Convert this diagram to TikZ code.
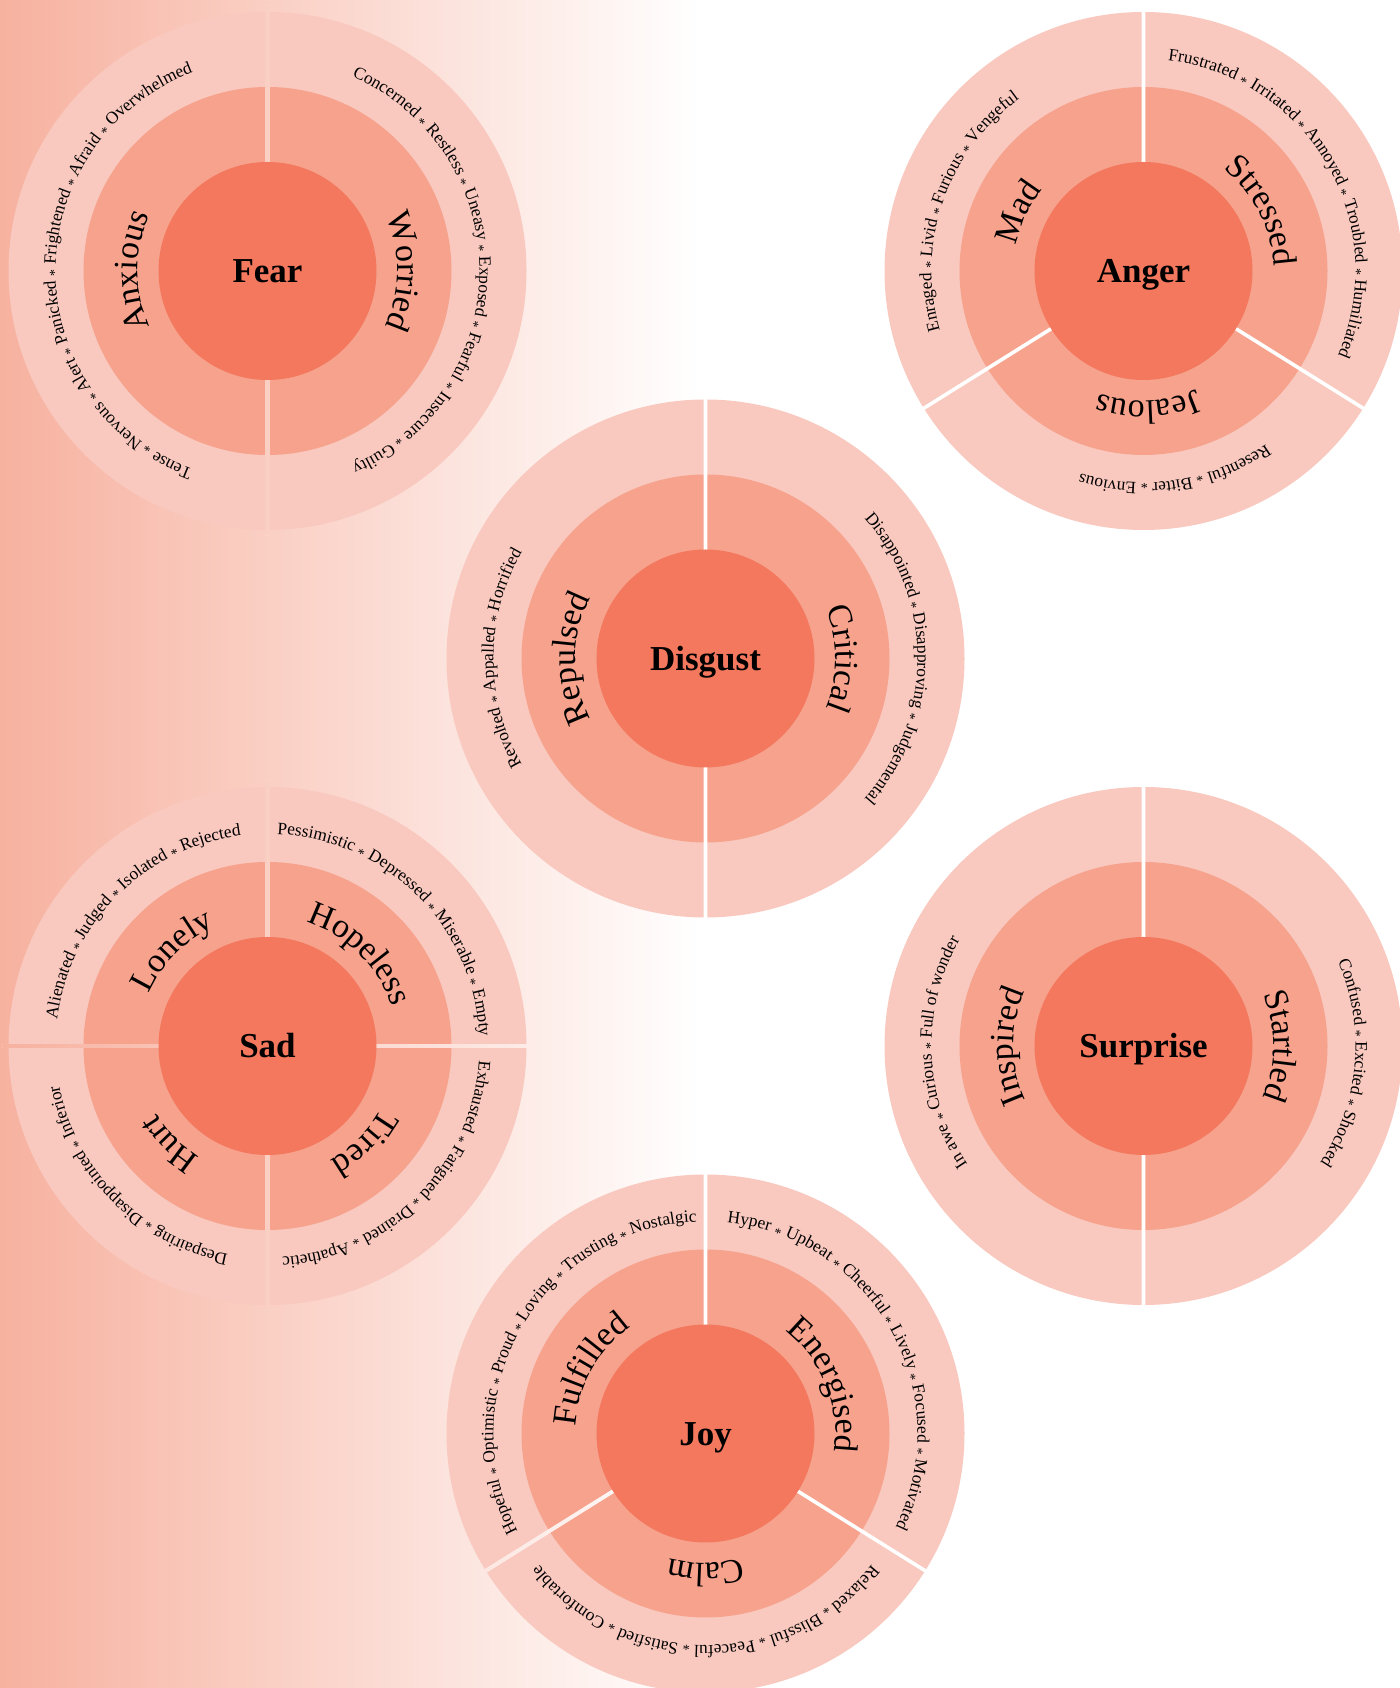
\documentclass[tikz,border=0pt]{standalone}
\usepackage{fontspec}
\setmainfont{Liberation Serif}
\usetikzlibrary{decorations.text}

\definecolor{bgsalmon}{HTML}{F7B19F}
\definecolor{outerring}{HTML}{F9C9BF}
\definecolor{midring}{HTML}{F6A28D}
\definecolor{corering}{HTML}{F3785E}

\newcommand\outerfont{\fontsize{8.7pt}{10pt}\selectfont}
\newcommand\midfont{\fontsize{17pt}{20pt}\selectfont}
\newcommand\corefont{\fontsize{17.5pt}{20pt}\selectfont\bfseries}
\newcommand\sepstar{\raisebox{-.45ex}{\fontsize{7pt}{7pt}\selectfont *}}

% background, painted again inside each gap
\newcommand\bgpaint{%
  \fill[white] (0,0) rectangle (1400,1688);
  \shade[left color=bgsalmon,right color=white] (0,0) rectangle (700,1688);}

% gap between two segments: #1 wheel, #2 angle
\newcommand\gapline[2]{%
  \begin{scope}[shift={(#1)},rotate=#2]
    \clip (100,-1.8) rectangle (265,1.8);
    \begin{scope}[reset cm] \bgpaint \end{scope}
  \end{scope}}

% text along a ring: #1 wheel, #2 radius, #3 mid angle, #4 font, #5 text
\newcommand\ringtext[5]{%
  \path[decorate,decoration={text along path,text align=center,text={|#4|#5}}]
    ([shift={(#3+90:#2)}]#1) arc[start angle=#3+90,end angle=#3-90,radius=#2];}

\begin{document}
\begin{tikzpicture}[x=0.5pt,y=0.5pt,
  outer/.style={fill=outerring},
  middle/.style={fill=midring},
  core/.style={circle,fill=corering,minimum size=109pt,inner sep=0pt,
    text height=11.6pt,text depth=0pt,font=\corefont}]
  \useasboundingbox (0,0) rectangle (1400,1688);
  \clip (0,0) rectangle (1400,1688);
  \bgpaint

  \coordinate (fear) at (267.5,1417);
  \coordinate (anger) at (1143.5,1417);
  \coordinate (disgust) at (705.5,1029.5);
  \coordinate (sad) at (267.5,642);
  \coordinate (surprise) at (1143.5,642);
  \coordinate (joy) at (705.5,254.5);

  \foreach \w in {fear,anger,disgust,sad,surprise,joy}{
    \fill[outer] (\w) circle[radius=259];
    \fill[middle] (\w) circle[radius=184];}

  % gaps between segments
  \gapline{fear}{90}  \gapline{fear}{270}
  \gapline{anger}{90} \gapline{anger}{212} \gapline{anger}{328}
  \gapline{disgust}{90} \gapline{disgust}{270}
  \gapline{sad}{0} \gapline{sad}{90} \gapline{sad}{180} \gapline{sad}{270}
  \gapline{surprise}{90} \gapline{surprise}{270}
  \gapline{joy}{90} \gapline{joy}{212} \gapline{joy}{328}

  \node[core] (fearcore) at (fear) {Fear};
  \node[core] (angercore) at (anger) {Anger};
  \node[core] (disgustcore) at (disgust) {Disgust};
  \node[core] (sadcore) at (sad) {Sad};
  \node[core] (surprisecore) at (surprise) {Surprise};
  \node[core] (joycore) at (joy) {Joy};

  % Fear
  \ringtext{fear}{130}{180}{\midfont}{Anxious}
  \ringtext{fear}{130}{0}{\midfont}{Worried}
  \ringtext{fear}{212}{180}{\outerfont}{Tense {\sepstar} Nervous {\sepstar} Alert {\sepstar} Panicked {\sepstar} Frightened {\sepstar} Afraid {\sepstar} Overwhelmed}
  \ringtext{fear}{212}{0}{\outerfont}{Concerned {\sepstar} Restless {\sepstar} Uneasy {\sepstar} Exposed {\sepstar} Fearful {\sepstar} Insecure {\sepstar} Guilty}

  % Anger
  \ringtext{anger}{130}{155}{\midfont}{Mad}
  \ringtext{anger}{130}{27}{\midfont}{Stressed}
  \ringtext{anger}{130}{272}{\midfont}{Jealous}
  \ringtext{anger}{212}{161}{\outerfont}{Enraged {\sepstar} Livid {\sepstar} Furious {\sepstar} Vengeful}
  \ringtext{anger}{212}{30}{\outerfont}{Frustrated {\sepstar} Irritated {\sepstar} Annoyed {\sepstar} Troubled {\sepstar} Humiliated}
  \ringtext{anger}{212}{279}{\outerfont}{Resentful {\sepstar} Bitter {\sepstar} Envious}

  % Disgust
  \ringtext{disgust}{130}{180}{\midfont}{Repulsed}
  \ringtext{disgust}{130}{0}{\midfont}{Critical}
  \ringtext{disgust}{212}{180}{\outerfont}{Revolted {\sepstar} Appalled {\sepstar} Horrified}
  \ringtext{disgust}{212}{0}{\outerfont}{Disappointed {\sepstar} Disapproving {\sepstar} Judgemental}

  % Sad
  \ringtext{sad}{130}{135}{\midfont}{Lonely}
  \ringtext{sad}{130}{45}{\midfont}{Hopeless}
  \ringtext{sad}{130}{225}{\midfont}{Hurt}
  \ringtext{sad}{130}{315}{\midfont}{Tired}
  \ringtext{sad}{212}{135}{\outerfont}{Alienated {\sepstar} Judged {\sepstar} Isolated {\sepstar} Rejected}
  \ringtext{sad}{212}{45}{\outerfont}{Pessimistic {\sepstar} Depressed {\sepstar} Miserable {\sepstar} Empty}
  \ringtext{sad}{212}{225}{\outerfont}{Despairing {\sepstar} Disappointed {\sepstar} Inferior}
  \ringtext{sad}{212}{315}{\outerfont}{Exhausted {\sepstar} Fatigued {\sepstar} Drained {\sepstar} Apathetic}

  % Surprise
  \ringtext{surprise}{130}{180}{\midfont}{Inspired}
  \ringtext{surprise}{130}{0}{\midfont}{Startled}
  \ringtext{surprise}{212}{182}{\outerfont}{In awe {\sepstar} Curious {\sepstar} Full of wonder}
  \ringtext{surprise}{212}{-5}{\outerfont}{Confused {\sepstar} Excited {\sepstar} Shocked}

  % Joy
  \ringtext{joy}{130}{151}{\midfont}{Fulfilled}
  \ringtext{joy}{130}{22}{\midfont}{Energised}
  \ringtext{joy}{130}{270}{\midfont}{Calm}
  \ringtext{joy}{212}{150}{\outerfont}{Hopeful {\sepstar} Optimistic {\sepstar} Proud {\sepstar} Loving {\sepstar} Trusting {\sepstar} Nostalgic}
  \ringtext{joy}{212}{29}{\outerfont}{Hyper {\sepstar} Upbeat {\sepstar} Cheerful {\sepstar} Lively {\sepstar} Focused {\sepstar} Motivated}
  \ringtext{joy}{212}{270}{\outerfont}{Relaxed {\sepstar} Blissful {\sepstar} Peaceful {\sepstar} Satisfied {\sepstar} Comfortable}
\end{tikzpicture}
\end{document}
